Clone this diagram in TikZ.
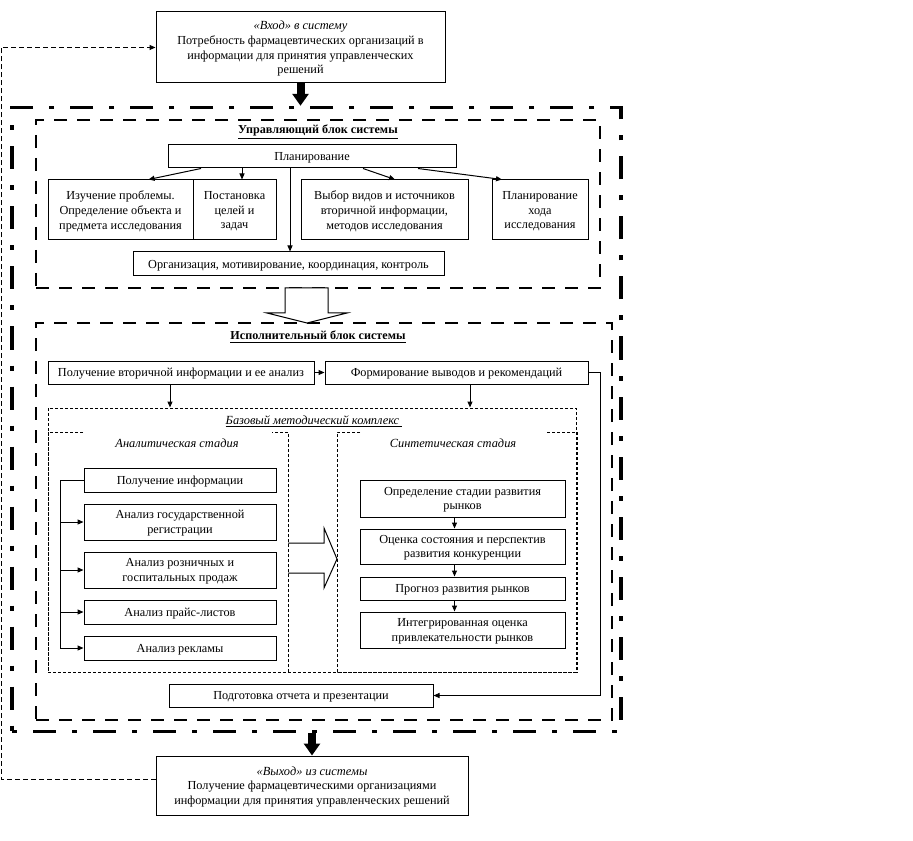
\documentclass[tikz,border=0pt]{standalone}
\usepackage{fontspec}
\setmainfont{Liberation Serif}
\usetikzlibrary{arrows.meta,calc}
\begin{document}
\begin{tikzpicture}[x=0.75pt,y=-0.75pt,
  bx/.style={draw,line width=0.75pt,inner sep=0pt,align=center,text depth=0pt,font=\fontsize{9.2}{11}\selectfont},
  ttl/.style={inner sep=0pt,align=center,font=\fontsize{9.1}{11}\selectfont},
  ittl/.style={inner sep=0pt,align=center,font=\fontsize{9.3}{11}\selectfont\itshape},
  arr/.style={line width=0.75pt,-{Triangle[length=4.5pt,width=3.75pt]}},
  ln/.style={line width=0.75pt},
  fb/.style={line width=0.75pt,dash pattern=on 3.75pt off 2.25pt},
  dots/.style={line width=0.75pt,dash pattern=on 2.25pt off 1.5pt},
  dashdotbox/.style={draw,line width=2.6pt,dash pattern=on 3.75pt off 12pt on 17.25pt off 12pt,inner sep=0pt},
  dashbox/.style={draw,line width=1.9pt,dash pattern=on 9.75pt off 7.5pt,inner sep=0pt},
  fatarr/.style={line width=6pt,-{Triangle[length=9pt,width=12pt]}}
]
\useasboundingbox (0,0) rectangle (913,841);

% outer and block frames
\node[dashdotbox,minimum width=456.75pt,minimum height=468pt] (outer) at (316.5,419.5) {};
\node[dashbox,minimum width=423pt,minimum height=126pt] (ctrl) at (318,204) {};
\node[dashbox,minimum width=432pt,minimum height=297.75pt] (exec) at (324,521.5) {};

% input / output
\node[bx,minimum width=216.75pt,minimum height=53.25pt] (in) at (300.5,47.5)
  {{\itshape\fontsize{9.3}{11}\selectfont «Вход» в систему}\\Потребность фармацевтических организаций в\\информации для принятия управленческих\\решений};
\node[bx,minimum width=234pt,minimum height=44.25pt] (out) at (312,785.5)
  {{\itshape\fontsize{9.3}{11}\selectfont «Выход» из системы}\\Получение фармацевтическими организациями\\информации для принятия управленческих решений};

\draw[fatarr] (in.south) -- (in.south |- outer.north);
\draw[fatarr] (outer.south -| out.north) -- (out.north);

\coordinate (fbl) at (1,779);
\draw[fb,-{Triangle[length=4.5pt,width=3.75pt]}] (fbl -| out.west) -- (fbl) |- (in.west);

% control block
\node[ttl] (t1) at (318,132) {\underline{\textbf{Управляющий блок системы}}};
\node[bx,minimum width=216pt,minimum height=17.25pt] (plan) at (312,156.5) {Планирование};
\node[bx,minimum width=108.75pt,minimum height=45pt] (izuch) at (120.5,210) {Изучение проблемы.\\Определение объекта и\\предмета исследования};
\node[bx,minimum width=62.25pt,minimum height=45pt] (post) at (234.5,210) {Постановка\\целей и\\задач};
\node[bx,minimum width=125.25pt,minimum height=45pt] (vybor) at (384.5,210) {Выбор видов и источников\\вторичной информации,\\методов исследования};
\node[bx,minimum width=72pt,minimum height=45pt] (planhod) at (540,210) {Планирование\\хода\\исследования};
\node[bx,minimum width=233.25pt,minimum height=18pt] (org) at (288.5,264) {Организация, мотивирование, координация, контроль};

\draw[arr] ($(plan.south)+(-111,0)$) -- ($(izuch.north)+(28,0)$);
\draw[arr] ($(plan.south)+(-70,0)$) -- ($(post.north)+(7.5,0)$);
\draw[arr] ($(plan.south)+(-22,0)$) -- ($(org.north)+(1.5,0)$);
\draw[arr] ($(plan.south)+(51,0)$) -- ($(vybor.north)+(10.5,0)$);
\draw[arr] ($(plan.south)+(106,0)$) -- ($(planhod.north)+(-38,0)$);

% hollow arrow between blocks
\draw[ln,fill=white] (285,288) -- (285,313) -- (267,313) -- (307,323) -- (347,313) -- (328,313) -- (328,288) -- cycle;

% executive block
\node[ttl] (t2) at (318,337) {\underline{\textbf{Исполнительный блок системы}}};
\node[bx,minimum width=199.5pt,minimum height=17.25pt] (poluch) at (181,372.5) {Получение вторичной информации и ее анализ};
\node[bx,minimum width=197.25pt,minimum height=17.25pt] (form) at (456.5,372.5) {Формирование выводов и рекомендаций};

\node[draw,dots,inner sep=0pt,minimum width=396pt,minimum height=198pt] (base) at (312,540) {};
\node[ittl] (t3) at (314,421) {\underline{Базовый методический комплекс\ }};
\draw[dots] (83,432) -- (48,432) -- (48,672) -- (288,672) -- (288,432) -- (272,432);
\draw[dots] (360,432) -- (337,432) -- (337,672) -- (577,672) -- (577,432) -- (547,432);
\node[ittl] (t4) at (177,443) {Аналитическая стадия};
\node[ittl] (t5) at (453,443) {Синтетическая стадия};

\draw[arr] (poluch.east) -- (form.west);
\coordinate (d1) at ($(poluch.south)+(-11,0)$);
\draw[arr] (d1) -- (d1 |- base.north);
\coordinate (d2) at ($(form.south)+(13.5,0)$);
\draw[arr] (d2) -- (d2 |- base.north);

% analytic stage
\node[bx,minimum width=144pt,minimum height=18pt] (pi) at (180,480) {Получение информации};
\node[bx,minimum width=144pt,minimum height=27pt] (agr) at (180,522) {Анализ государственной\\регистрации};
\node[bx,minimum width=144pt,minimum height=27pt] (arp) at (180,570) {Анализ розничных и\\госпитальных продаж};
\node[bx,minimum width=144pt,minimum height=18pt] (apl) at (180,612) {Анализ прайс-листов};
\node[bx,minimum width=144pt,minimum height=18pt] (ar) at (180,648) {Анализ рекламы};
\coordinate (bk) at (60,480);
\draw[arr] (pi.west) -- (bk) |- (ar.west);
\draw[arr] (bk |- agr.west) -- (agr.west);
\draw[arr] (bk |- arp.west) -- (arp.west);
\draw[arr] (bk |- apl.west) -- (apl.west);

% hollow arrow analytic -> synthetic
\draw[ln] (288,543) -- (324,543) -- (324,528) -- (337,559) -- (324,588) -- (324,573) -- (288,573);

% synthetic stage
\node[bx,minimum width=153.75pt,minimum height=27.75pt] (opr) at (462.5,498.5) {Определение стадии развития\\рынков};
\node[bx,minimum width=153.75pt,minimum height=26.25pt] (ocen) at (462.5,546.5) {Оценка состояния и перспектив\\развития конкуренции};
\node[bx,minimum width=153.75pt,minimum height=17.25pt] (prog) at (462.5,588.5) {Прогноз развития рынков};
\node[bx,minimum width=153.75pt,minimum height=27pt] (integr) at (462.5,630) {Интегрированная оценка\\привлекательности рынков};
\draw[arr] ($(opr.south)+(-8,0)$) -- ($(ocen.north)+(-8,0)$);
\draw[arr] ($(ocen.south)+(-8,0)$) -- ($(prog.north)+(-8,0)$);
\draw[arr] ($(prog.south)+(-8,0)$) -- ($(integr.north)+(-8,0)$);

% report
\node[bx,minimum width=198pt,minimum height=17.25pt] (podg) at (301,695.5) {Подготовка отчета и презентации};
\draw[arr] (form.east) -- ++(12,0) |- (podg.east);
\end{tikzpicture}
\end{document}
